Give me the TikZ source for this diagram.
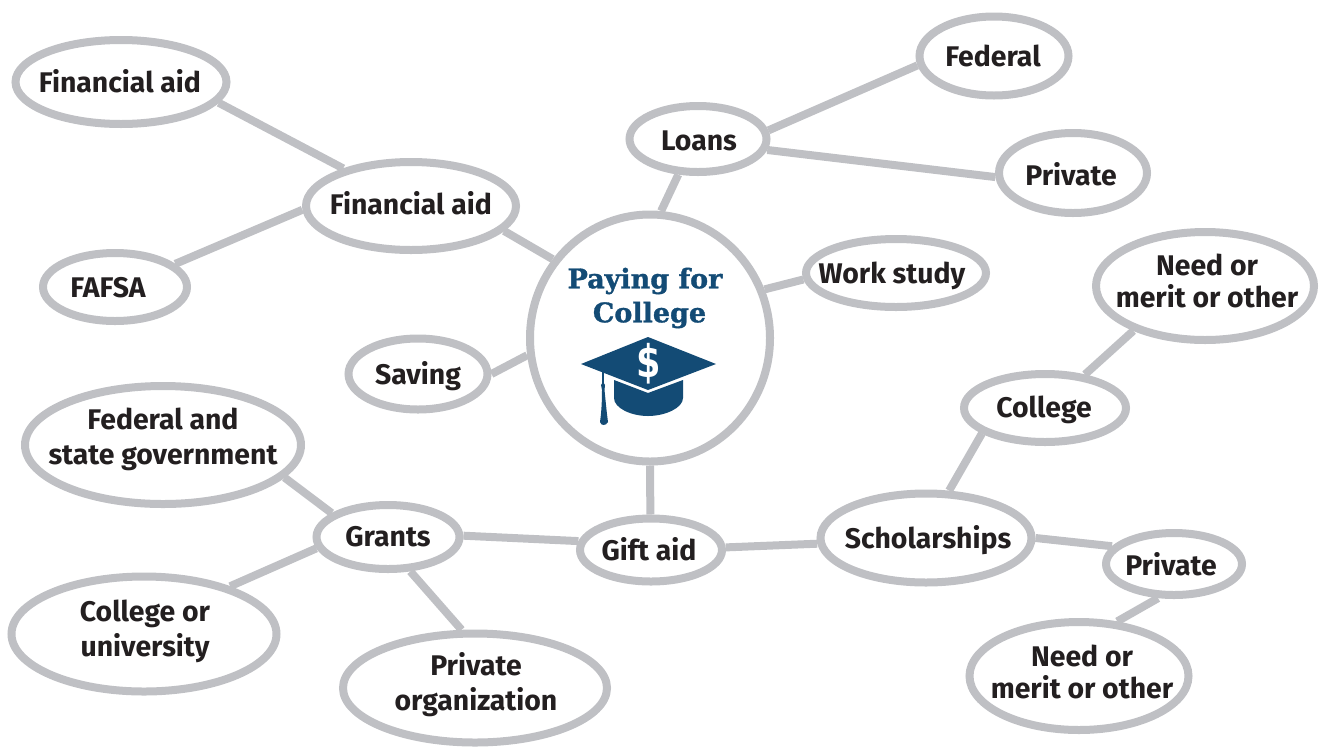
\documentclass[tikz,border=0pt]{standalone}
\usepackage{fontspec}
\setmainfont{Fira Sans}[BoldFont={Fira Sans Bold}]
\newfontfamily\titlefont{DejaVu Serif}[BoldFeatures={FakeBold=1.2}]
\newfontfamily\dollarfont{DejaVu Sans}
\usetikzlibrary{shapes.geometric,backgrounds}
\definecolor{ringgray}{HTML}{BFC0C4}
\definecolor{capblue}{HTML}{134B75}
\definecolor{inkdark}{HTML}{231F20}
\tikzset{
  x=1pt,y=-1pt,
  bubble/.style={ellipse,draw=ringgray,line width=8pt,fill=white,inner sep=0pt,
    text=inkdark,font=\fontsize{28.4}{35}\selectfont\bfseries},
  link/.style={draw=ringgray,line width=8pt},
  captitle/.style={text=capblue,align=center,inner sep=0pt,font=\fontsize{27}{34}\titlefont\bfseries}
}
% name, cx, cy, w, h, text dx, text dy, text
\newcommand{\bub}[8]{\node[bubble,minimum width=#4pt-6pt,minimum height=#5pt-6pt] (#1) at (#2,#3)
  {\makebox[0pt]{\hspace*{#6pt}\hspace*{#6pt}\smash{\raisebox{\dimexpr-#7pt-9.5pt\relax}{\begin{tabular}{@{}c@{}}#8\end{tabular}}}}};}
\begin{document}
\begin{tikzpicture}
\useasboundingbox (0,0) rectangle (1320,748);
\bub{fatop}{121}{82}{217}{90}{-1}{0}{Financial aid}
\bub{fa}{411}{206}{216}{94}{0}{-2}{Financial aid}
\bub{fafsa}{115}{287}{150}{74}{-7}{0}{FAFSA}
\bub{loans}{698}{139}{143}{72}{1}{1}{Loans}
\bub{federal}{994}{56}{155}{85}{-1}{0}{Federal}
\bub{privA}{1073}{173}{154}{86}{-2}{2}{Private}
\bub{work}{896}{273}{186}{74}{-4}{0}{Work study}
\bub{hub}{650}{338}{246}{253}{0}{0}{}
\bub{saving}{418}{374}{145}{77}{0}{0}{Saving}
\bub{fedstate}{163}{445}{282}{124}{0}{-8.5}{Federal and\\state government}
\bub{grants}{388}{537}{149}{70}{0}{-1}{Grants}
\bub{univ}{144}{634}{271}{121}{1}{-5}{College or\\university}
\bub{org}{475}{688}{270}{115}{1}{-5}{Private\\organization}
\bub{gift}{651}{550}{148}{69}{-2}{0}{Gift aid}
\bub{schol}{926}{538}{217}{95}{2}{0}{Scholarships}
\bub{college}{1045}{408}{168}{74}{-1}{-1}{College}
\bub{needA}{1205}{286}{224}{114}{2}{-5}{Need or\\[-3pt]merit or other}
\bub{privB}{1174}{564}{142}{68}{-3}{1}{Private}
\bub{needB}{1079}{676}{225}{114}{3}{-4}{Need or\\[-3pt]merit or other}
\begin{scope}[on background layer]
\draw[link] (fatop.-12.8) -- (fa.151.4);
\draw[link] (fafsa.21.6) -- (fa.182);
\draw[link] (fa.-15.8) -- (hub.141.2);
\draw[link] (loans.241) -- (hub.85.4);
\draw[link] (loans.7.1) -- (federal.187.7);
\draw[link] (loans.-9.7) -- (privA.183);
\draw[link] (hub.23.5) -- (work.184.4);
\draw[link] (saving.0.8) -- (hub.188.5);
\draw[link] (hub.270) -- (gift.91.7);
\draw[link] (gift.173) -- (grants.1.5);
\draw[link] (gift.2.3) -- (schol.183.8);
\draw[link] (grants.157) -- (fedstate.-15.5);
\draw[link] (grants.189) -- (univ.29.6);
\draw[link] (grants.-57) -- (org.103);
\draw[link] (schol.64) -- (college.202);
\draw[link] (college.40.6) -- (needA.212.3);
\draw[link] (schol.-0.5) -- (privB.164.8);
\draw[link] (privB.245.7) -- (needB.55.2);
\end{scope}
% mortarboard
\fill[capblue] (614,380) -- (648,393) -- (683,380) -- (683,398) .. controls (683,408) and (665,416) .. (648,416) .. controls (631,416) and (614,408) .. (614,398) -- cycle;
\fill[capblue] (581,364) -- (648,337) -- (716,364) -- (648,390) -- cycle;
\draw[capblue,line width=1.4pt] (603,372) -- (603,385);
\fill[capblue] (603,382) -- (605,385) -- (604.5,390) .. controls (606,405) and (607,415) .. (608,422) .. controls (606,426) and (601,426) .. (600,422) .. controls (601,415) and (602,405) .. (602,390) -- (601,385) -- cycle;
\node[text=white,inner sep=0pt,transform shape,xscale=.78,font=\fontsize{45}{45}\dollarfont\bfseries] (dollar) at (649,364) {\$};
\node[captitle] (title) at (645,298) {Paying for\\\hspace*{9pt}College};
\end{tikzpicture}
\end{document}
